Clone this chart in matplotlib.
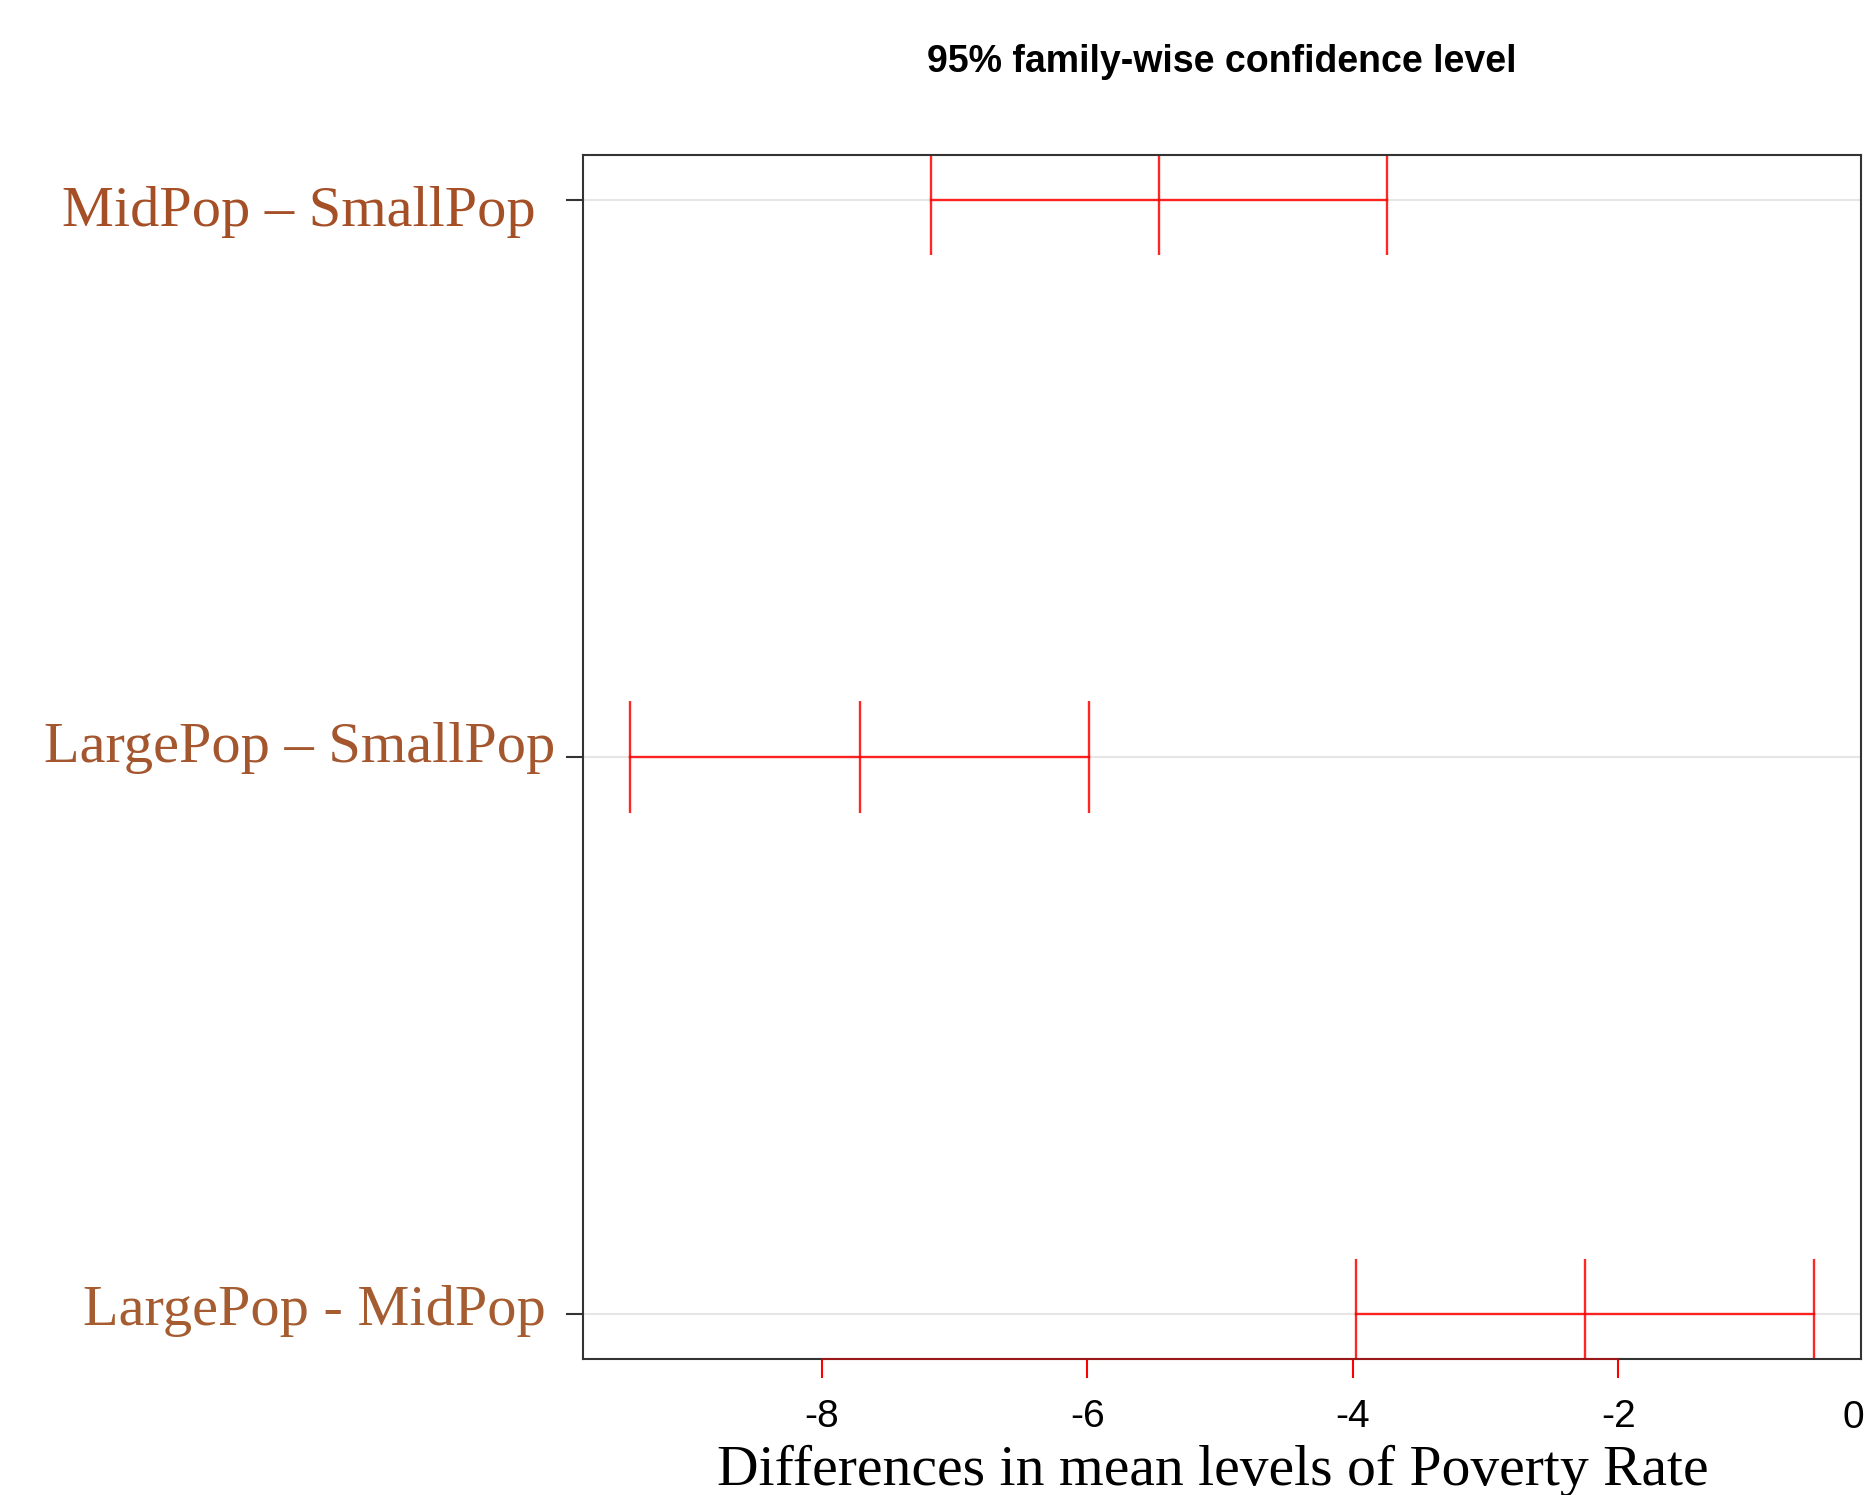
import numpy as np
import matplotlib.pyplot as plt
import matplotlib.transforms as mtransforms

# Tukey HSD comparisons
comparisons = ["MidPop \u2013 SmallPop", "LargePop \u2013 SmallPop", "LargePop - MidPop"]
diff = [-5.46, -7.71, -2.25]
lwr = [-7.18, -9.44, -3.98]
upr = [-3.74, -5.99, -0.53]
xticks = [-8, -6, -4, -2]

label_colors = ["#A54F27", "#A4562E", "#A55C30"]
label_right = [-0.037, -0.022, -0.029]  # right edge of each name, axes coords
label_dy = [-0.022, 0.017, 0.006]       # small vertical nudges, data units

fig = plt.figure(figsize=(18.64, 14.95), dpi=100)
ax = fig.add_axes([0.3128, 0.0910, 0.6856, 0.8053])

n = len(comparisons)
ypos = np.arange(n, 0, -1)  # top row first, like R

# R-style 4% range expansion
lo, hi = min(lwr), max(upr)
pad = 0.04 * (hi - lo)
ax.set_xlim(lo - pad, hi + pad)
ax.set_ylim(1 - 0.08, n + 0.08)

for y in ypos:
    ax.axhline(y, color="#E6E6E6", lw=1.5, zorder=0)

cap = 0.1
for y, d, l, u in zip(ypos, diff, lwr, upr):
    ax.plot([l, u], [y, y], color="red", lw=1.7, alpha=0.85, zorder=2)
    ax.vlines([l, d, u], y - cap, y + cap, colors="red", lw=1.7, alpha=0.85, zorder=2)

for s in ax.spines.values():
    s.set_color("#333333")
    s.set_linewidth(1.5)

# y axis: comparison names
ax.set_yticks(ypos)
ax.set_yticklabels([])
ax.tick_params(axis="y", direction="out", length=12, width=1.5, color="#333333")
ytrans = mtransforms.blended_transform_factory(ax.transAxes, ax.transData)
for y, name, c, xr, dy in zip(ypos, comparisons, label_colors, label_right, label_dy):
    ax.text(xr, y + dy, name, transform=ytrans, ha="right", va="center",
            family="Liberation Serif", fontsize=42, color=c, clip_on=False)

# x axis: red ticks and red axis line from first to last tick
ax.set_xticks(xticks)
ax.set_xticklabels([str(t) for t in xticks], family="Liberation Sans", fontsize=28)
ax.tick_params(axis="x", direction="out", length=14, width=1.5, color="red",
               labelcolor="black", pad=15)
trans = mtransforms.blended_transform_factory(ax.transData, ax.transAxes)
ax.plot([xticks[0], xticks[-1]], [0, 0], color="red", lw=1.5, alpha=0.5,
        transform=trans, clip_on=False, zorder=5)
ax.text(-0.23, -0.049, "0", transform=trans, ha="center", va="center",
        family="Liberation Sans", fontsize=28, clip_on=False)

ax.set_xlabel("Differences in mean levels of Poverty Rate", family="Liberation Serif",
              fontsize=41.5, va="center")
ax.xaxis.set_label_coords(0.493, -0.093)

fig.text(0.5 * (0.3128 + 0.9984), 0.9585, "95% family-wise confidence level",
         ha="center", va="center", family="Liberation Sans",
         fontweight="bold", fontsize=27)

fig.savefig("out.png", dpi=100)
